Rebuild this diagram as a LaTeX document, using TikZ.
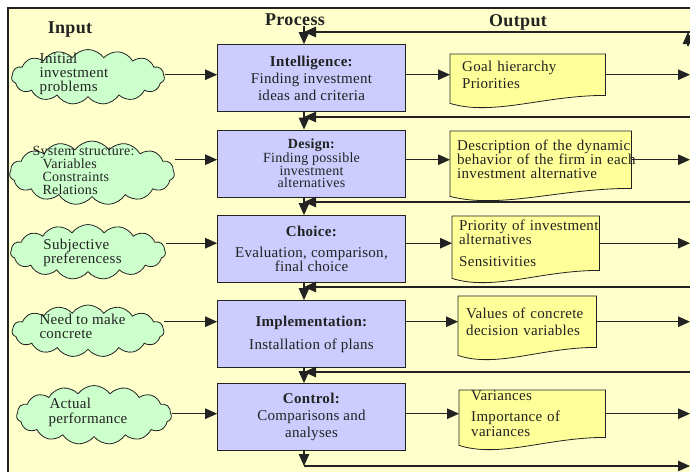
\documentclass[tikz,border=0pt]{standalone}
\usepackage{fontspec}
\setmainfont{Liberation Serif}[LetterSpace=2.0]
\usepackage{tikz}
\usetikzlibrary{arrows.meta, positioning, shapes.symbols, calc, backgrounds}

\definecolor{panel}{HTML}{FFFFCC}
\definecolor{cloudgreen}{HTML}{CCFFCC}
\definecolor{procblue}{HTML}{CCCCFF}
\definecolor{docyellow}{HTML}{FFFF99}
\definecolor{ink}{HTML}{222222}

% document outline with wavy bottom, drawn behind a node
\newcommand{\docoutline}[1]{%
  \begin{scope}[on background layer]
    \path[docline] (#1.north west) -- (#1.north east) -- (#1.south east)
      .. controls ($(#1.south east)!0.4!(#1.south west)$)
      and ($(#1.south east)!0.72!(#1.south west)+(0,21)$)
      .. ($(#1.south west)+(0,8)$) -- cycle;
  \end{scope}}

\begin{document}
\begin{tikzpicture}[x=1pt, y=-1pt,
    flow/.style={-{Triangle[length=12pt,width=10.5pt]}, draw=ink, line width=1.1pt},
    incloud/.style={cloud, cloud puffs=15, cloud puff arc=110, cloud ignores aspect,
      draw=ink, line width=0.8pt, fill=cloudgreen},
    cloudtext/.style={align=left, inner sep=0pt, text=ink, font=\fontsize{15}{14}\selectfont},
    procbox/.style={draw=ink, line width=0.8pt, fill=procblue, minimum width=188pt,
      minimum height=67pt, align=center, text=ink, font=\fontsize{15}{17}\selectfont},
    outdoc/.style={anchor=north west, inner sep=0pt, align=left, text=ink,
      font=\fontsize{15}{17}\selectfont},
    docline/.style={draw=ink, line width=0.8pt, fill=docyellow},
    head/.style={text=ink, font=\fontsize{18}{20}\selectfont\bfseries}]

    \useasboundingbox (0,0) rectangle (690,472);

    % panel
    \begin{scope}[on background layer]
        \fill[white] (0,0) rectangle (690,472);
        \fill[panel] (8,8) rectangle (690,472);
        \draw[ink, line width=1.6pt] (8,472) -- (8,8) -- (690,8);
    \end{scope}

    % headings
    \node[head] (inhead) at (70,30) {Input};
    \node[head] (prochead) at (295,20) {Process};
    \node[head] (outhead) at (518,22) {Output};

    % inputs
    \node[incloud, minimum width=153pt, minimum height=55pt] (c1) at (88,77) {};
    \node[cloudtext] (t1) at (74,74) {Initial\\investment\\problems};
    \node[incloud, minimum width=165pt, minimum height=64pt] (c2) at (92,173) {};
    \node[cloudtext, font=\fontsize{14}{13}\selectfont] (t2) at (83.5,170)
        {System structure:\\\hspace*{10pt}Variables\\\hspace*{10pt}Constraints\\\hspace*{10pt}Relations};
    \node[incloud, minimum width=155pt, minimum height=55pt] (c3) at (88,252) {};
    \node[cloudtext] (t3) at (82.5,253) {Subjective\\preferencess};
    \node[incloud, minimum width=152pt, minimum height=52pt] (c4) at (88,331) {};
    \node[cloudtext] (t4) at (82.5,326.5) {Need to make\\concrete};
    \node[incloud, minimum width=155pt, minimum height=59pt] (c5) at (94,415) {};
    \node[cloudtext, font=\fontsize{15}{15}\selectfont] (t5) at (88,412.5) {\hspace*{1pt}Actual\\performance};

    % process
    \node[procbox] (p1) at (311.5,78) {\textbf{Intelligence:}\\Finding investment\\ideas and criteria};
    \node[procbox, below=17.7pt of p1, font=\fontsize{14}{12.6}\selectfont] (p2)
        {\textbf{Design:}\\Finding possible\\investment\\alternatives};
    \node[procbox, below=17.7pt of p2, font=\fontsize{15}{14}\selectfont] (p3)
        {\textbf{Choice:}\\[7pt]Evaluation, comparison,\\final choice};
    \node[procbox, below=17.2pt of p3] (p4) {\textbf{Implementation:}\\[6pt]Installation of plans};
    \node[procbox, below=15.2pt of p4] (p5) {\textbf{Control:}\\Comparisons and\\analyses};

    % outputs
    \node[outdoc, text width=155pt, minimum height=41pt] (d1) at (450,54)
        {\hspace*{12pt}Goal hierarchy\\\hspace*{12pt}Priorities};
    \docoutline{d1}
    \node[outdoc, text width=181pt, minimum height=57pt, font=\fontsize{15}{14}\selectfont] (d2) at (450,131)
        {\hspace*{7pt}\mbox{Description of the dynamic}\\\hspace*{7pt}\mbox{behavior of the firm in each}\\\hspace*{7pt}\mbox{investment alternative}};
    \docoutline{d2}
    \node[outdoc, text width=147pt, minimum height=54pt, font=\fontsize{15}{14}\selectfont] (d3) at (452,216)
        {\hspace*{7pt}\mbox{Priority of investment}\\\hspace*{7pt}alternatives\\[8pt]\hspace*{7pt}Sensitivities};
    \docoutline{d3}
    \node[outdoc, text width=138pt, minimum height=51pt] (d4) at (458,296)
        {\hspace*{8pt}Values of concrete\\\hspace*{8pt}decision variables};
    \docoutline{d4}
    \node[outdoc, text width=146pt, minimum height=47pt, font=\fontsize{15}{15}\selectfont] (d5) at (459,390)
        {\hspace*{12pt}Variances\\[6pt]\hspace*{12pt}Importance of\\\hspace*{12pt}variances};
    \docoutline{d5}

    % junctions on the process column and the right rim
    \coordinate (rim) at (690,0);
    \coordinate (j0) at (304,32);
    \coordinate (j1) at (304,117);
    \coordinate (j2) at (304,202);
    \coordinate (j3) at (304,287);
    \coordinate (j4) at (304,372);
    \coordinate (j5) at (304,466);
    \coordinate (loopup) at (688,46);

    % rows
    \foreach \i in {1,...,5} {
        \draw[flow] (c\i.east |- d\i.west) -- (p\i.west |- d\i.west);
        \draw[flow] (p\i.east |- d\i.west) -- (d\i.west);
        \draw[flow] (d\i.east) -- (d\i.east -| rim);
    }

    % feedback lines
    \foreach \i in {0,...,4} {
        \draw[flow] (j\i -| rim) -- (j\i);
    }
    \draw[flow] (loopup) -- (loopup |- j0);

    % process sequence
    \draw[flow] ([yshift=6pt]j0) -- (p1.north -| j0);
    \draw[flow] (p1.south -| j1) -- (p2.north -| j1);
    \draw[flow] (p2.south -| j2) -- (p3.north -| j2);
    \draw[flow] (p3.south -| j3) -- (p4.north -| j3);
    \draw[flow] (p4.south -| j4) -- (p5.north -| j4);
    \draw[flow] (p5.south -| j5) -- (j5);
    \draw[flow] (j5) -- (j5 -| rim);
\end{tikzpicture}
\end{document}
